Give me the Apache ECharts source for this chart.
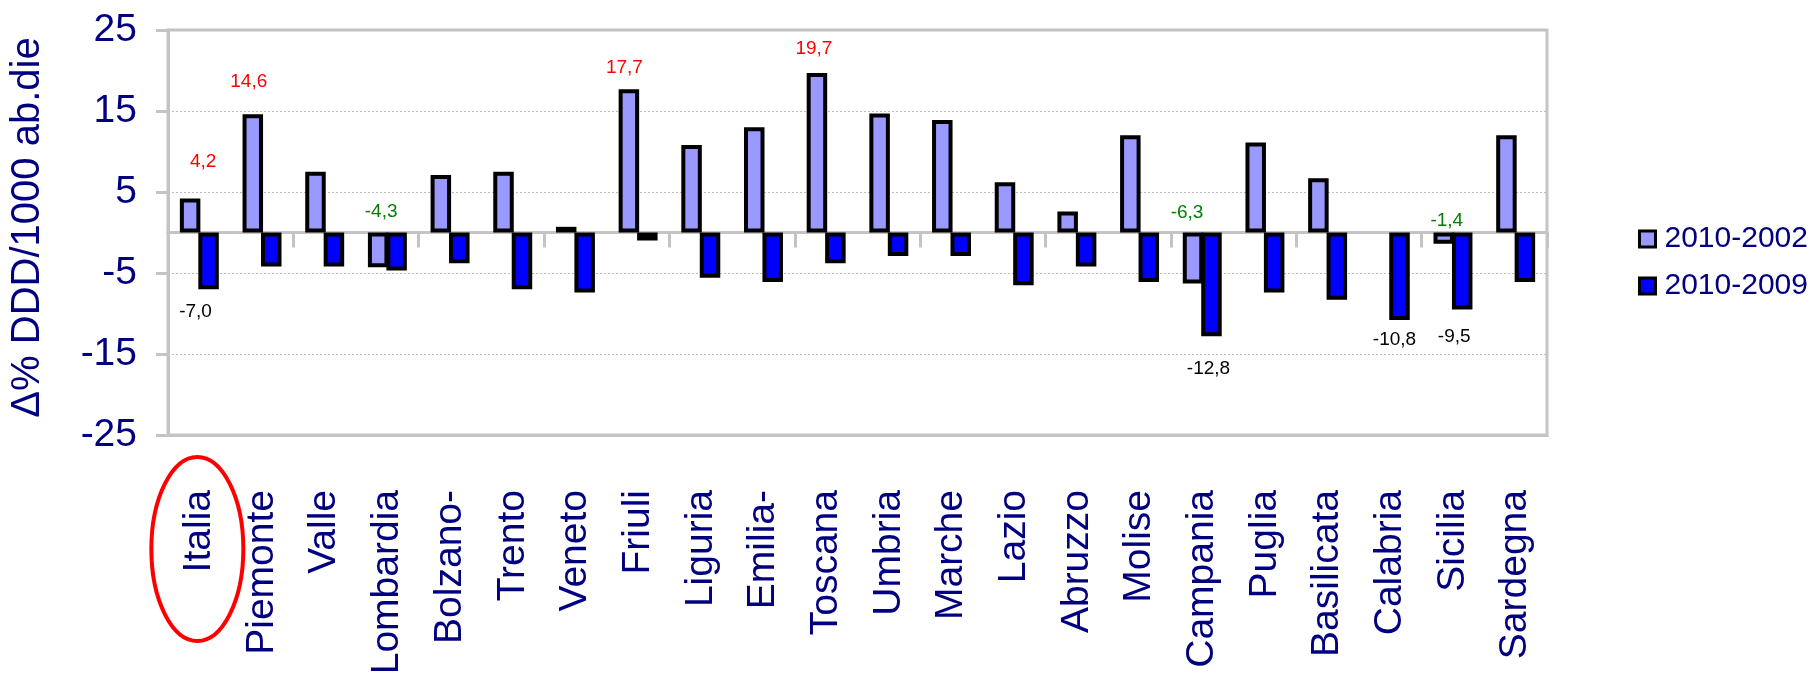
<!DOCTYPE html>
<html>
<head>
<meta charset="utf-8">
<script src="https://cdn.jsdelivr.net/npm/echarts@6/dist/echarts.min.js"></script>
<style>
html,body{margin:0;padding:0;background:#ffffff;}
#chart{width:1810px;height:680px;}
</style>
</head>
<body>
<div id="chart"></div>
<script>
// ---------- data ----------
const categories = ['Italia','Piemonte','Valle','Lombardia','Bolzano-','Trento','Veneto','Friuli','Liguria','Emilia-','Toscana','Umbria','Marche','Lazio','Abruzzo','Molise','Campania','Puglia','Basilicata','Calabria','Sicilia','Sardegna'];
const seriesNames = ['2010-2002','2010-2009'];
const values2002 = [4.2, 14.6, 7.5, -4.3, 7.1, 7.5, 0.7, 17.7, 10.8, 13.0, 19.7, 14.7, 13.9, 6.2, 2.6, 12.0, -6.3, 11.1, 6.7, null, -1.4, 12.0];
const values2009 = [-7.0, -4.2, -4.2, -4.7, -3.8, -7.0, -7.4, -1.0, -5.6, -6.1, -3.8, -2.9, -2.9, -6.5, -4.2, -6.1, -12.8, -7.4, -8.3, -10.8, -9.5, -6.1];
const yMin = -25, yMax = 25, yStep = 10;
const labeled2002 = [0, 1, 3, 7, 10, 16, 20];
const labeled2009 = [0, 16, 19, 20];

// ---------- styling ----------
const NAVY = '#000080';
const GRAY = '#c4c4c4';
const FONT = 'Liberation Sans, Arial, sans-serif';
const labelTweak2002 = {0:{d:27.5,dx:13},1:{d:23,dx:-4},3:{d:11,dx:3},7:{d:12,dx:-4.5},10:{d:15,dx:-3},16:{d:10,dx:-6},20:{d:2,dx:3}};
const labelTweak2009 = {0:{d:13,dx:-13},16:{d:23,dx:-3},19:{d:10.5,dx:-5},20:{d:17.5,dx:-8}};

function fmt(v){ return v.toFixed(1).replace('.', ','); }

function buildData(vals, labeled, tweaks, isLight){
  return vals.map(function(v, i){
    if (v === null) return '-';
    const item = {value: v};
    if (labeled.indexOf(i) >= 0){
      const t = tweaks[i] || {d: 10, dx: 0};
      item.label = {
        show: true,
        position: isLight ? 'top' : 'bottom',
        distance: t.d,
        offset: [t.dx || 0, 0],
        formatter: fmt(v),
        color: isLight ? (v >= 0 ? '#ff0000' : '#008000') : '#000000',
        fontSize: 19,
        fontFamily: FONT
      };
    }
    return item;
  });
}

const chart = echarts.init(document.getElementById('chart'), null, {renderer: 'canvas'});

const option = {
  backgroundColor: '#ffffff',
  animation: false,
  grid: {
    left: 167, right: 263, top: 30, bottom: 245,
    show: true, borderColor: GRAY, borderWidth: 3, backgroundColor: 'transparent'
  },
  legend: {
    orient: 'vertical',
    left: 1633, top: 219,
    itemWidth: 16, itemHeight: 16, itemGap: 17,
    icon: 'rect',
    itemStyle: {borderColor: '#000000', borderWidth: 3},
    textStyle: {fontSize: 30, color: NAVY, fontFamily: FONT, padding: [0,0,0,4]},
    data: seriesNames
  },
  xAxis: [
    {
      type: 'category',
      data: categories,
      position: 'bottom',
      axisLine: {show: true, onZero: false, lineStyle: {color: GRAY, width: 3}},
      axisTick: {show: false},
      axisLabel: {
        rotate: 90, margin: 55, interval: 0,
        fontSize: 39, color: NAVY, fontFamily: FONT
      },
      splitLine: {show: false}
    },
    {
      type: 'category',
      data: categories,
      position: 'top',
      axisLine: {show: true, onZero: true, lineStyle: {color: GRAY, width: 3}},
      axisTick: {show: true, inside: true, length: 15, alignWithLabel: false, lineStyle: {color: GRAY, width: 3}},
      axisLabel: {show: false},
      splitLine: {show: false}
    }
  ],
  yAxis: {
    type: 'value',
    min: yMin, max: yMax, interval: yStep,
    name: 'Δ% DDD/1000 ab.die',
    nameLocation: 'middle',
    nameGap: 120,
    nameTextStyle: {fontSize: 40, color: NAVY, fontFamily: FONT, padding: [0, 0, 0, 10]},
    axisLine: {show: true, onZero: false, lineStyle: {color: GRAY, width: 3}},
    axisTick: {show: true, length: 12, lineStyle: {color: GRAY, width: 3}},
    axisLabel: {fontSize: 39, color: NAVY, margin: 31, fontFamily: FONT},
    splitLine: {show: true, lineStyle: {color: '#bdbdbd', width: 1, type: [2, 2]}}
  },
  series: [
    {
      name: seriesNames[0],
      type: 'bar',
      xAxisIndex: 0,
      barWidth: 20.5,
      barGap: '-10%',
      itemStyle: {color: '#9999ff', borderColor: '#000000', borderWidth: 4},
      data: buildData(values2002, labeled2002, labelTweak2002, true),
      z: 3
    },
    {
      name: seriesNames[1],
      type: 'bar',
      xAxisIndex: 0,
      barWidth: 20.5,
      barGap: '-10%',
      itemStyle: {color: '#0000ff', borderColor: '#000000', borderWidth: 4},
      data: buildData(values2009, labeled2009, labelTweak2009, false),
      z: 3
    }
  ]
};
chart.setOption(option);

// red ellipse highlighting the "Italia" label
const cx = chart.convertToPixel({xAxisIndex: 0}, categories[0]);
chart.setOption({
  graphic: [{
    type: 'ellipse',
    shape: {cx: cx - 2, cy: 549, rx: 46, ry: 92},
    style: {fill: 'none', stroke: '#ff0000', lineWidth: 4},
    z: 10
  }]
});
</script>
</body>
</html>
